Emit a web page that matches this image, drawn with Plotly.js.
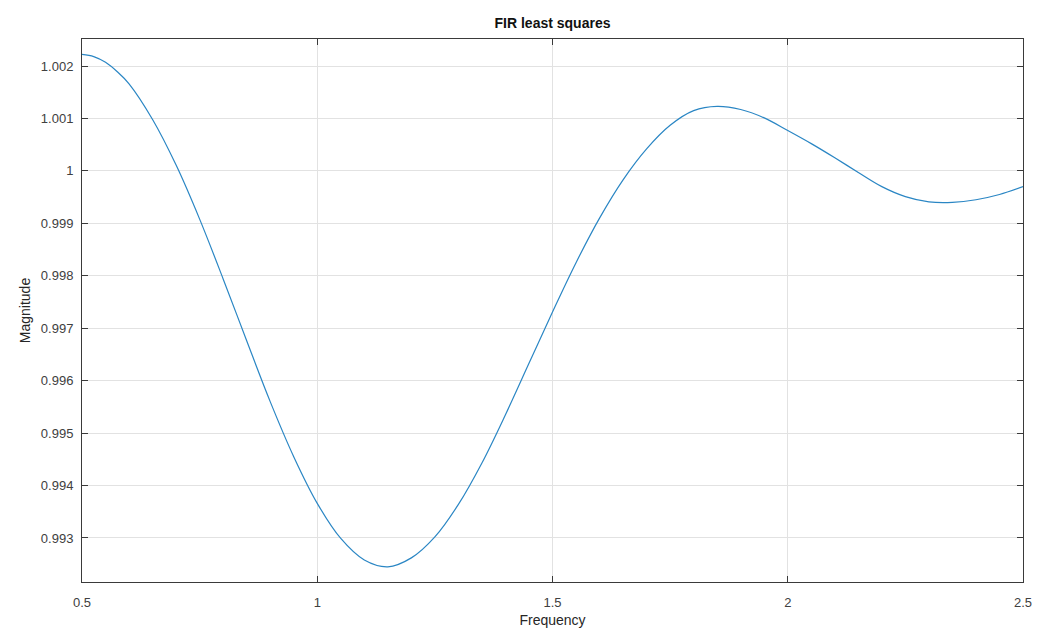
<!DOCTYPE html>
<html>
<head>
<meta charset="utf-8">
<script src="https://cdn.plot.ly/plotly-3.0.1.min.js"></script>
<style>html,body{margin:0;padding:0;background:#fff;}#chart{width:1037px;height:636px;}</style>
</head>
<body>
<div id="chart"></div>
<script>
const frequency = [0.50,0.525,0.55,0.575,0.60,0.65,0.70,0.75,0.80,0.85,0.90,0.95,1.00,1.05,1.10,1.15,1.20,1.25,1.30,1.35,1.40,1.45,1.50,1.55,1.60,1.65,1.70,1.75,1.80,1.85,1.90,1.95,2.00,2.05,2.10,2.15,2.20,2.25,2.30,2.35,2.40,2.45,2.50];
const magnitude = [1.00222,1.00218,1.00207,1.00189,1.00166,1.00098,1.00011,0.99908,0.99794,0.99676,0.99560,0.99455,0.99366,0.99299,0.99258,0.99245,0.99262,0.99302,0.99364,0.99443,0.99535,0.99633,0.99731,0.99825,0.99910,0.99983,1.00042,1.00087,1.00115,1.00123,1.00117,1.00101,1.00077,1.00052,1.00025,0.99997,0.99970,0.99951,0.99941,0.99940,0.99945,0.99955,0.99970];
const xTicks = [0.5,1,1.5,2,2.5];
const xTickLabels = ['0.5','1','1.5','2','2.5'];
const yTicks = [0.993,0.994,0.995,0.996,0.997,0.998,0.999,1.000,1.001,1.002];
const yTickLabels = ['0.993','0.994','0.995','0.996','0.997','0.998','0.999','1','1.001','1.002'];

const fontFam = 'Liberation Sans, Arial, Helvetica, sans-serif';
const axisCommon = {
  showgrid: true, gridcolor: '#e2e2e2', gridwidth: 1,
  showline: true, linecolor: '#3a3a3a', linewidth: 1, mirror: 'ticks',
  ticks: 'inside', ticklen: 6, tickcolor: '#3a3a3a', tickwidth: 1,
  tickfont: {family: fontFam, size: 13, color: '#404040'},
  zeroline: false, tickmode: 'array'
};
const layout = {
  width: 1037, height: 636,
  margin: {l: 82, r: 14, t: 39, b: 54},
  paper_bgcolor: '#fff', plot_bgcolor: '#fff',
  showlegend: false,
  title: {text: '<b>FIR least squares</b>', font: {family: fontFam, size: 14, color: '#111'}, x: 0.5, xanchor: 'center', y: 1 - 23/636, yanchor: 'middle', xref: 'paper'},
  xaxis: Object.assign({}, axisCommon, {
    range: [0.5, 2.5], tickvals: xTicks, ticktext: xTickLabels, ticklabelstandoff: 8,
    title: {text: 'Frequency', font: {family: fontFam, size: 14, color: '#262626'}, standoff: 6}
  }),
  yaxis: Object.assign({}, axisCommon, {
    range: [0.99216, 1.002515], tickvals: yTicks, ticktext: yTickLabels, ticklabelstandoff: 5,
    title: {text: 'Magnitude', font: {family: fontFam, size: 14, color: '#262626'}, standoff: 6}
  })
};
const trace = {
  x: frequency, y: magnitude, type: 'scatter', mode: 'lines',
  line: {color: '#2a86c4', width: 1.2, shape: 'spline', smoothing: 1},
  hoverinfo: 'skip'
};
Plotly.newPlot('chart', [trace], layout, {staticPlot: true, displayModeBar: false});
</script>
</body>
</html>
